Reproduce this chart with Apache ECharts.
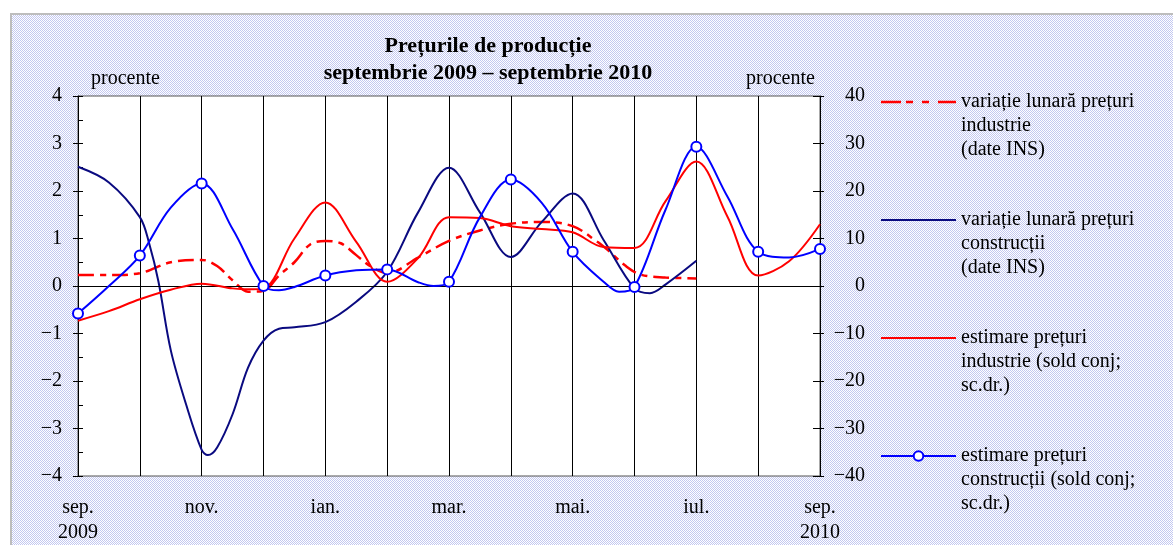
<!DOCTYPE html>
<html>
<head>
<meta charset="utf-8">
<script src="https://cdn.jsdelivr.net/npm/echarts@6/dist/echarts.min.js"></script>
<style>
  html, body { margin: 0; padding: 0; background: #fff; }
  #wrap { position: relative; width: 1173px; height: 545px; overflow: hidden; background: #fff; }
  #bg { position: absolute; left: 10px; top: 13px; right: 0; bottom: 0;
        border-left: 2px solid #bdbdbd; border-top: 2px solid #bdbdbd;
        background: repeating-conic-gradient(#c3c8f0 0 25%, #ffffff 0 50%) 0 0 / 2px 2px; }
  #chart { position: absolute; left: 0; top: 0; width: 1173px; height: 545px; }
</style>
</head>
<body>
<div id="wrap"><div id="bg"></div><div id="chart"></div></div>
<script>
// Month index: 0 = sep. 2009 ... 12 = sep. 2010
const monthLabels = ['sep.\n2009', '', 'nov.', '', 'ian.', '', 'mar.', '', 'mai.', '', 'iul.', '', 'sep.\n2010'];

// variație lunară prețuri industrie (date INS) - left axis, %
const indInsX = [0, 0.5, 1, 1.5, 2, 2.25, 2.5, 2.75, 3, 3.25, 3.5, 3.75, 4, 4.25, 4.5, 4.75, 5, 5.5, 6, 6.5, 7, 7.5, 8, 8.4, 8.6, 8.85, 9.1, 9.5, 10];
const indInsY = [0.23, 0.23, 0.27, 0.5, 0.55, 0.42, 0.12, -0.12, -0.1, 0.22, 0.5, 0.87, 0.95, 0.9, 0.65, 0.4, 0.27, 0.6, 0.95, 1.17, 1.31, 1.35, 1.26, 0.93, 0.72, 0.43, 0.24, 0.18, 0.16];

// variație lunară prețuri construcții (date INS) - left axis, %
const conInsX = [0, 0.5, 1, 1.15, 1.3, 1.5, 1.75, 2, 2.1, 2.25, 2.5, 2.75, 3, 3.25, 3.5, 4, 4.5, 5, 5.5, 6, 6.5, 7, 7.5, 8, 8.5, 9, 9.25, 9.5, 10];
const conInsY = [2.51, 2.18, 1.45, 0.9, 0.1, -1.35, -2.5, -3.45, -3.56, -3.4, -2.7, -1.72, -1.15, -0.9, -0.87, -0.76, -0.33, 0.3, 1.55, 2.49, 1.55, 0.61, 1.35, 1.95, 0.97, -0.05, -0.15, 0.03, 0.53];

// estimare prețuri industrie (sold conj; sc.dr.) - right axis
const indEstX = [0, 0.5, 1, 1.5, 2, 2.5, 2.75, 3, 3.5, 4, 4.5, 5, 5.5, 6, 6.5, 7, 7.5, 8, 8.5, 9, 9.5, 10, 10.5, 11, 11.5, 12];
const indEstY = [-7.3, -5.3, -2.8, -0.8, 0.5, -0.5, -0.7, -0.5, 10.0, 17.6, 9.3, 0.9, 5.9, 14.5, 14.3, 12.6, 12.0, 11.3, 8.2, 8.0, 17.8, 26.2, 14.7, 2.2, 5.2, 13.0];

// estimare prețuri construcții (sold conj; sc.dr.) - right axis
const conEstX = [0, 0.5, 1, 1.5, 2, 2.5, 3, 3.25, 3.5, 4, 4.5, 5, 5.5, 5.75, 6, 6.5, 7, 7.5, 8, 8.5, 8.75, 9, 9.5, 10, 10.5, 11, 11.5, 12];
const conEstY = [-5.8, 0.0, 6.4, 16.5, 21.6, 12.0, 0.0, -0.9, -0.2, 2.2, 3.3, 3.5, 0.8, 0.0, 0.9, 14.5, 22.4, 17.5, 7.2, 0.9, -1.2, -0.2, 16.0, 29.3, 18.9, 7.2, 6.0, 7.8];

const seriesNames = [
  'variație lunară prețuri\nindustrie\n(date INS)',
  'variație lunară prețuri\nconstrucții\n(date INS)',
  'estimare prețuri\nindustrie (sold conj;\nsc.dr.)',
  'estimare prețuri\nconstrucții (sold conj;\nsc.dr.)'
];

const FONT = "'Liberation Serif', 'Times New Roman', serif";
const pairs = (xs, ys) => xs.map((x, i) => [x, ys[i]]);
const fmtNum = v => (v < 0 ? '\u2212' + (-v) : String(v));

const ICON_SOLID = 'path://M0,0h75v2h-75z';
const ICON_DASH = 'path://M0,0h20v2.5h-20zM25,0h7v2.5h-7zM41,0h7v2.5h-7zM57,0h18v2.5h-18z';

const chart = echarts.init(document.getElementById('chart'), null, { renderer: 'canvas' });
chart.setOption({
  backgroundColor: 'transparent',
  animation: false,
  textStyle: { fontFamily: FONT, color: '#000' },
  title: {
    text: 'Prețurile de producție\nseptembrie 2009 – septembrie 2010',
    left: 488, top: 33, textAlign: 'center',
    padding: 0,
    textStyle: { fontFamily: FONT, fontSize: 22, fontWeight: 'bold', lineHeight: 27, color: '#000' }
  },
  graphic: [
    { type: 'text', left: 91, top: 69, style: { text: 'procente', font: '20px ' + FONT, fill: '#000' } },
    { type: 'text', left: 746, top: 69, style: { text: 'procente', font: '20px ' + FONT, fill: '#000' } }
  ],
  legend: {
    orient: 'vertical', left: 880, top: 42, padding: 0,
    itemWidth: 75, itemHeight: 12, itemGap: -2,
    selectedMode: false,
    formatter: name => '\n\n' + name,
    textStyle: { fontFamily: FONT, fontSize: 20, lineHeight: 24, color: '#000' },
    data: [
      { name: seriesNames[0], icon: ICON_DASH },
      { name: seriesNames[1], icon: ICON_SOLID },
      { name: seriesNames[2], icon: ICON_SOLID },
      { name: seriesNames[3] }
    ]
  },
  grid: { left: 78, right: 353, top: 96, bottom: 66, show: true, backgroundColor: '#fff', borderColor: '#555', borderWidth: 1 },
  xAxis: {
    type: 'value', min: 0, max: 12, interval: 1,
    axisLine: { show: true, lineStyle: { color: '#000', width: 1 } },
    axisTick: { show: false },
    splitLine: { show: true, lineStyle: { color: '#000', width: 1 } },
    axisLabel: {
      showMinLabel: true, showMaxLabel: true,
      margin: 19, fontFamily: FONT, fontSize: 20, lineHeight: 25, color: '#000',
      formatter: v => monthLabels[Math.round(v)] || ''
    }
  },
  yAxis: [
    {
      type: 'value', position: 'left', min: -4, max: 4, interval: 1,
      axisLine: { show: true, lineStyle: { color: '#000' } },
      axisTick: { show: true, inside: false, length: 5, lineStyle: { color: '#000' } },
      splitLine: { show: false },
      axisLabel: { margin: 16, fontFamily: FONT, fontSize: 20, color: '#000', formatter: fmtNum }
    },
    {
      type: 'value', position: 'right', min: -40, max: 40, interval: 10,
      axisLine: { show: true, lineStyle: { color: '#000' } },
      axisTick: { show: true, inside: false, length: 4, lineStyle: { color: '#000' } },
      splitLine: { show: false },
      axisLabel: { margin: 45, align: 'right', fontFamily: FONT, fontSize: 20, color: '#000', formatter: fmtNum }
    },
    {
      type: 'value', position: 'left', offset: 0, min: -4, max: 4, interval: 0.5,
      axisLine: { show: false }, axisLabel: { show: false }, splitLine: { show: false },
      axisTick: { show: true, inside: true, length: 5, lineStyle: { color: '#000' } }
    },
    {
      type: 'value', position: 'right', offset: 0, min: -40, max: 40, interval: 10,
      axisLine: { show: false }, axisLabel: { show: false }, splitLine: { show: false },
      axisTick: { show: true, inside: true, length: 7, lineStyle: { color: '#000' } }
    }
  ],
  series: [
    {
      name: seriesNames[0], type: 'line', yAxisIndex: 0, smooth: 0.35, symbol: 'none',
      data: pairs(indInsX, indInsY),
      itemStyle: { color: '#ff0000' },
      lineStyle: { color: '#ff0000', width: 2.5, type: [16, 6, 6, 6] },
      markLine: {
        silent: true, symbol: 'none', label: { show: false },
        lineStyle: { color: '#000', width: 1, type: 'solid' },
        data: [{ yAxis: 0 }]
      },
      z: 3
    },
    {
      name: seriesNames[1], type: 'line', yAxisIndex: 0, smooth: 0.35, symbol: 'none',
      data: pairs(conInsX, conInsY),
      itemStyle: { color: '#0a0a80' },
      lineStyle: { color: '#0a0a80', width: 2 },
      z: 4
    },
    {
      name: seriesNames[2], type: 'line', yAxisIndex: 1, smooth: 0.35, symbol: 'none',
      data: pairs(indEstX, indEstY),
      itemStyle: { color: '#ff0000' },
      lineStyle: { color: '#ff0000', width: 2 },
      z: 5
    },
    {
      name: seriesNames[3], type: 'line', yAxisIndex: 1, smooth: 0.35,
      symbol: 'circle', showSymbol: true,
      symbolSize: v => (Number.isInteger(v[0]) ? 10 : 0),
      data: pairs(conEstX, conEstY),
      itemStyle: { color: '#ffffff', borderColor: '#0000ff', borderWidth: 2 },
      lineStyle: { color: '#0000ff', width: 2 },
      z: 6
    }
  ]
});
</script>
</body>
</html>
